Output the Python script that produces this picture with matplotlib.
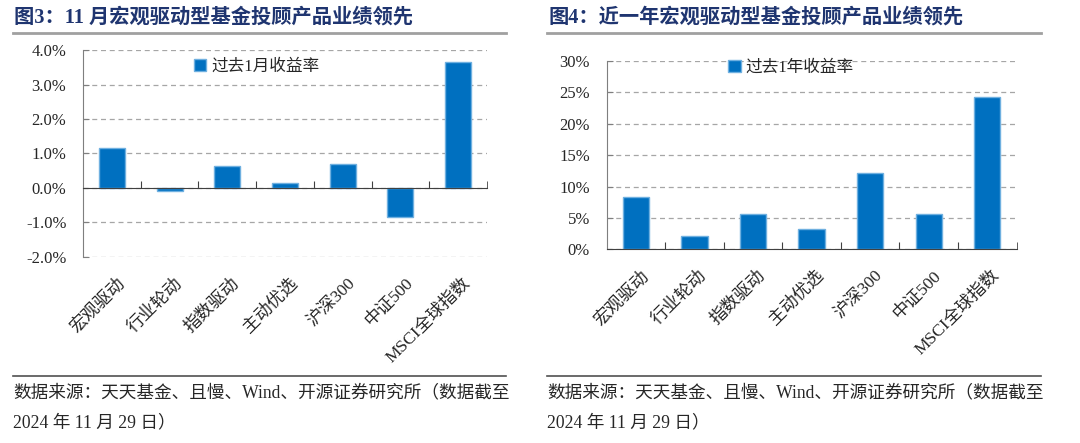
import numpy as np
import matplotlib
matplotlib.use("Agg")
import matplotlib.pyplot as plt
from matplotlib.ticker import FuncFormatter

plt.rcParams['font.family'] = ['Liberation Serif', 'Noto Sans CJK SC', 'DejaVu Sans']

# data
categories = ['宏观驱动', '行业轮动', '指数驱动', '主动优选', '沪深300', '中证500', 'MSCI全球指数']
ret_1m = [1.15, -0.08, 0.64, 0.13, 0.69, -0.84, 3.65]     # %
ret_1y = [8.3, 2.1, 5.6, 3.3, 12.1, 5.7, 24.3]            # %
title_left = '图3：11 月宏观驱动型基金投顾产品业绩领先'
title_right = '图4：近一年宏观驱动型基金投顾产品业绩领先'
legend_left = '过去1月收益率'
legend_right = '过去1年收益率'
source_1 = '数据来源：天天基金、且慢、Wind、开源证券研究所（数据截至'
source_2 = '2024 年 11 月 29 日）'

bar_color = '#0070C0'
edge_color = '#6FB0E0'
title_color = '#1F3570'
grid_color = '#A6A6A6'
text_color = '#262626'

fig = plt.figure(figsize=(10.8, 4.43), dpi=100)


def draw_panel(rect, values, ylim, yticks, fmt, leg_label, leg_pos):
    ax = fig.add_axes(rect)
    x = np.arange(len(categories))
    ax.bar(x, values, width=0.45, color=bar_color, edgecolor=edge_color,
           linewidth=1.0, label=leg_label, zorder=3)
    ax.set_xlim(-0.5, len(categories) - 0.5)
    ax.set_ylim(*ylim)
    ax.set_yticks(yticks)
    ax.yaxis.set_major_formatter(FuncFormatter(fmt))
    ax.grid(axis='y', color=grid_color, linestyle=(0, (4, 3)), linewidth=0.9, zorder=0)
    for s in ['top', 'right']:
        ax.spines[s].set_visible(False)
    ax.spines['left'].set_color('#7F7F7F')
    ax.spines['bottom'].set_position(('data', 0))
    ax.spines['bottom'].set_color('#404040')
    ax.spines['bottom'].set_zorder(4)
    ax.set_xticks(x[:-1] + 0.5)
    ax.set_xticks([len(categories) - 0.5], minor=True)
    ax.tick_params(axis='x', which='both', direction='in', length=5,
                   color='#404040', labelbottom=False)
    ax.tick_params(axis='y', direction='in', length=4, color='#7F7F7F',
                   labelsize=12, labelcolor=text_color, pad=12)
    for i, c in enumerate(categories):
        ax.annotate(c, xy=(i, 0), xycoords=('data', 'axes fraction'),
                    xytext=(3, -13), textcoords='offset points',
                    rotation=45, rotation_mode='anchor', ha='right', va='top',
                    fontsize=12.5, color=text_color)
    leg = ax.legend(loc='center', bbox_to_anchor=leg_pos, frameon=False,
                    fontsize=12, handlelength=0.75, handleheight=0.75,
                    handletextpad=0.3, borderpad=0)
    for t in leg.get_texts():
        t.set_color(text_color)
    return ax


draw_panel([0.0769, 0.420, 0.374, 0.467], ret_1m, (-2, 4), np.arange(-2, 4.1, 1),
           lambda v, p: '%.1f%%' % v, legend_left, (0.43, 0.918))
draw_panel([0.5617, 0.437, 0.3796, 0.426], ret_1y, (0, 30), np.arange(0, 31, 5),
           lambda v, p: '%d%%' % v, legend_right, (0.45, 0.963))

# titles, rules and source notes
for x0, x1, title in [(13, 506, title_left), (547, 1041, title_right)]:
    fig.text(x0 / 1080 + 0.001, 1 - 18 / 443, title, fontsize=14.6, fontweight='bold',
             color=title_color, va='center', ha='left')
    fig.add_artist(plt.Line2D([x0 / 1080, x1 / 1080], [1 - 33 / 443] * 2,
                              color='#A0A0A0', linewidth=2))
    fig.add_artist(plt.Line2D([x0 / 1080, x1 / 1080], [1 - 376 / 443] * 2,
                              color='#505050', linewidth=1.2))
    fig.text(x0 / 1080, 1 - 393 / 443, source_1, fontsize=12.7, color=text_color,
             va='center', ha='left')
    fig.text(x0 / 1080, 1 - 423 / 443, source_2, fontsize=12.7, color=text_color,
             va='center', ha='left')

fig.savefig('out.png', dpi=100)
